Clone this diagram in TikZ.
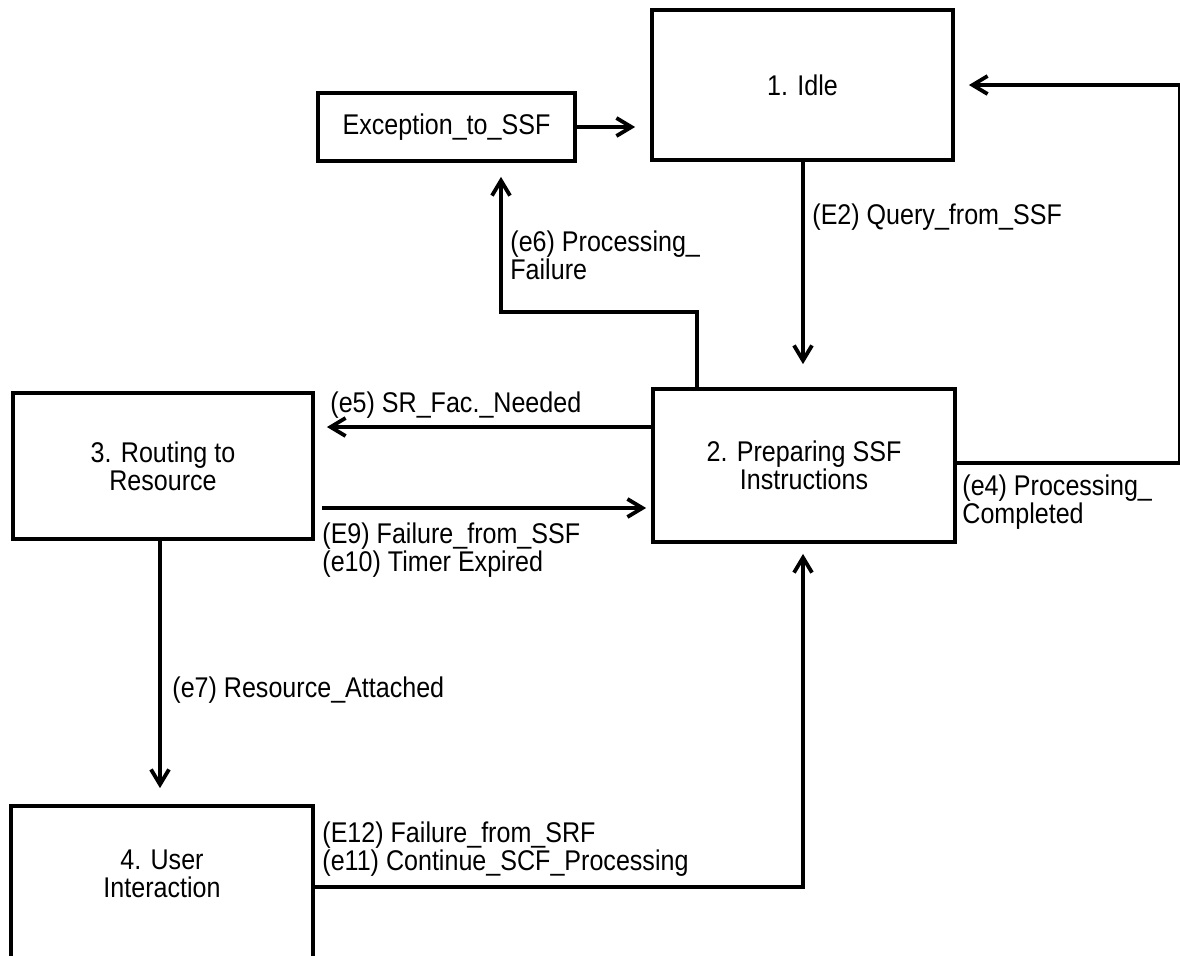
\documentclass[tikz,border=0pt]{standalone}
\usepackage{fontspec}
\setmainfont{Liberation Sans}[FakeStretch=0.88]
\usetikzlibrary{arrows.meta}
\newcommand\diagfont{\fontsize{14.25}{14}\selectfont}
\begin{document}
\begin{tikzpicture}[x=0.5pt,y=-0.5pt,
  state/.style={draw, line width=1.9pt, rectangle, inner sep=0pt, align=center, font=\diagfont},
  lbl/.style={font=\diagfont, inner sep=0pt, align=left, anchor=west},
  arr/.style={line width=1.9pt, -{Straight Barb[length=7.5pt,width=9pt]}}]
\useasboundingbox (0,0) rectangle (1180,955);

% states
\node[state, minimum width=150.5pt, minimum height=75pt] (idle) at (802.5,85) {1. Idle};
\node[state, minimum width=128.5pt, minimum height=34pt] (exc) at (446.5,127) {Exception\_to\_SSF};
\node[state, minimum width=151pt, minimum height=76.5pt] (prep) at (804,465.5) {2. Preparing SSF\\Instructions};
\node[state, minimum width=150pt, minimum height=73pt] (rout) at (163,466) {3. Routing to\\Resource};
\node[state, minimum width=151pt, minimum height=102pt] (user) at (162,908) {};
\node[font=\diagfont, align=center, inner sep=0pt] (userlbl) at (162,874) {4. User\\Interaction};

% bend points
\coordinate (b6) at (697,312);
\coordinate (t6) at (501,312);
\coordinate (r1) at (1179.5,463);
\coordinate (r2) at (1179.5,85);
\coordinate (y5) at (0,427);
\coordinate (y9) at (0,508);
\coordinate (x7) at (160,0);
\coordinate (c11) at (803,887);

% transitions
\draw[arr, shorten >=7.5pt] (exc.east) -- (exc.east -| idle.west);
\draw[arr, shorten >=11.5pt] (idle.south -| c11) -- (prep.north -| c11);
\draw[arr, shorten >=7pt] (prep.north -| b6) -- (b6) -- (t6) -- (exc.south -| t6);
\draw[arr, shorten >=7pt] (prep.east |- r1) -- (r1) -- (r2) -- (idle.east |- r2);
\draw[arr, shorten >=6pt] (prep.west |- y5) -- (rout.east |- y5);
\draw[arr, shorten <=3.5pt, shorten >=2.5pt] (rout.east |- y9) -- (prep.west |- y9);
\draw[arr, shorten >=8pt] (rout.south -| x7) -- (user.north -| x7);
\draw[arr, shorten >=5pt] (user.east |- c11) -- (c11) -- (prep.south -| c11);

% transition labels
\node[lbl] (lE2) at (812,217) {(E2) Query\_from\_SSF};
\node[lbl] (le6) at (510,255) {(e6) Processing\_\\Failure};
\node[lbl] (le4) at (962,502) {(e4) Processing\_\\Completed};
\node[lbl] (le5) at (330,405) {(e5) SR\_Fac.\_Needed};
\node[lbl] (lE9) at (322,550) {(E9) Failure\_from\_SSF\\(e10) Timer Expired};
\node[lbl] (le7) at (172,690) {(e7) Resource\_Attached};
\node[lbl] (lE12) at (322,849) {(E12) Failure\_from\_SRF\\(e11) Continue\_SCF\_Processing};
\end{tikzpicture}
\end{document}
